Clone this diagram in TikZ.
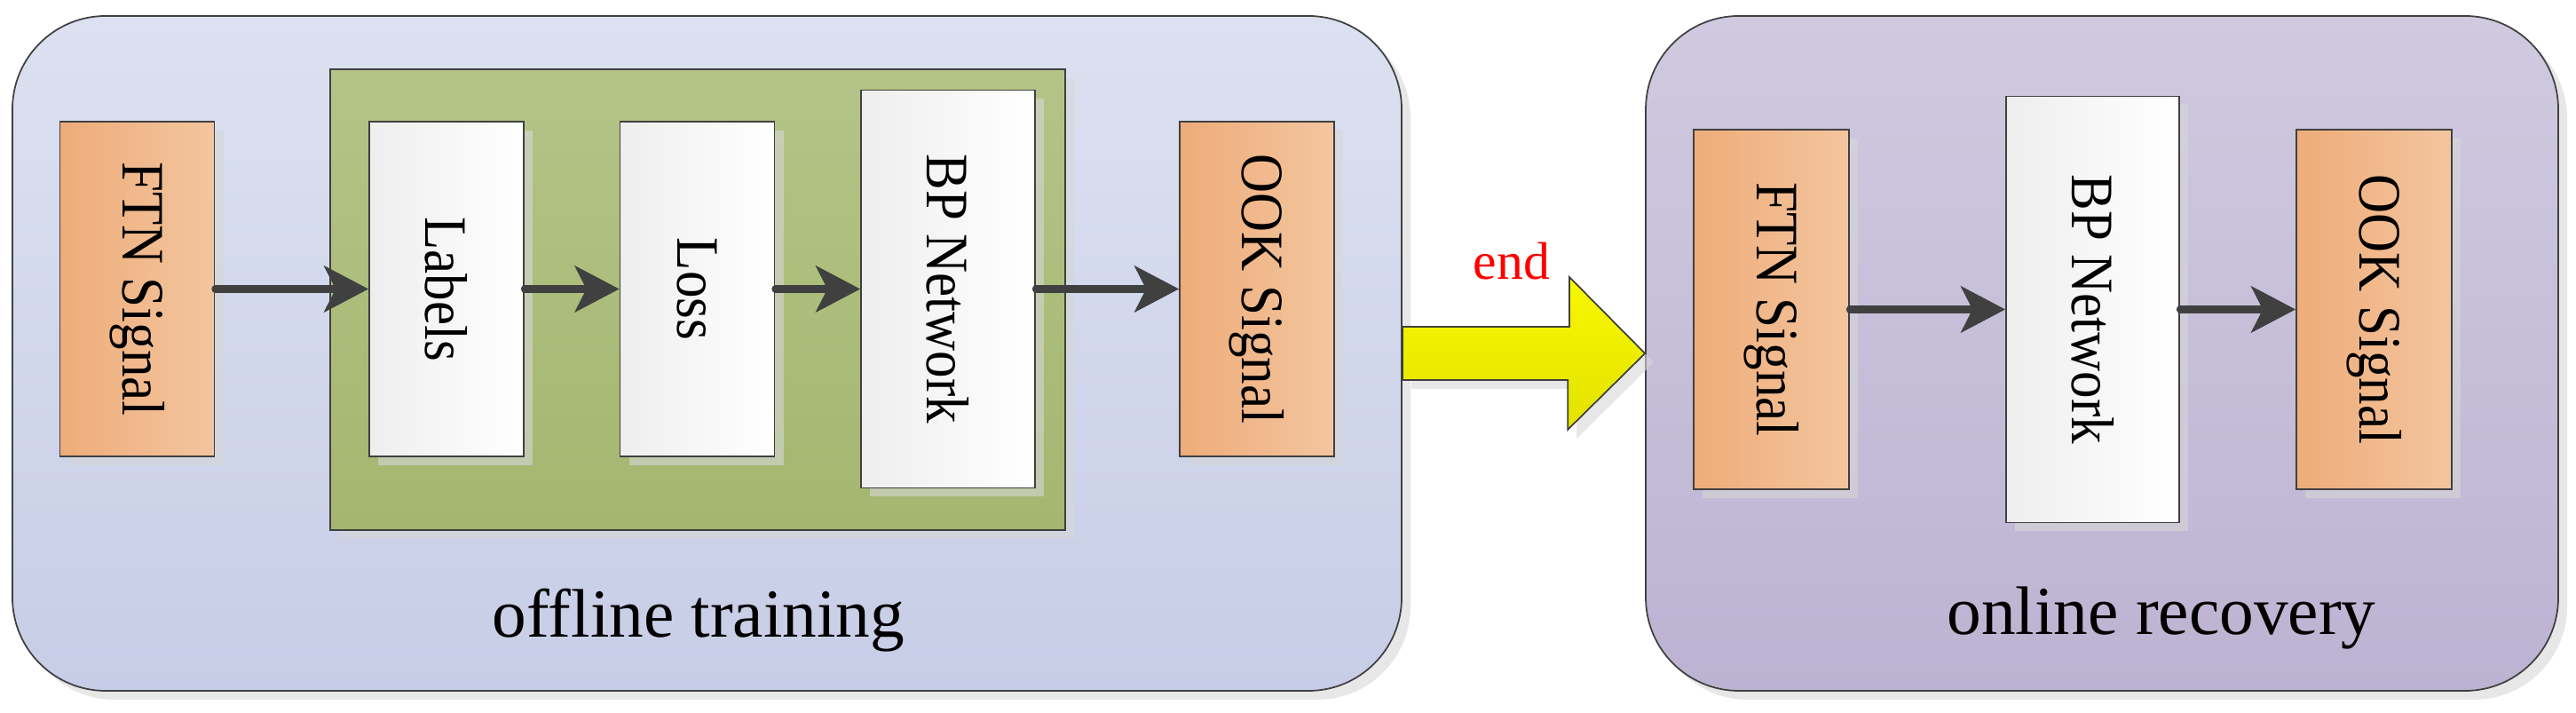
\documentclass[tikz,border=0pt]{standalone}
\usepackage{fontspec}
\setmainfont{Liberation Serif}
\usetikzlibrary{arrows.meta,positioning,shadows,calc}
\definecolor{edgeGray}{RGB}{64,64,64}
\definecolor{offTop}{RGB}{220,225,241}
\definecolor{offBot}{RGB}{199,205,230}
\definecolor{onTop}{RGB}{208,202,224}
\definecolor{onBot}{RGB}{188,179,210}
\definecolor{grnTop}{RGB}{180,196,136}
\definecolor{grnBot}{RGB}{164,182,111}
\definecolor{orgL}{RGB}{238,172,121}
\definecolor{orgR}{RGB}{243,197,159}
\definecolor{whtL}{RGB}{238,238,238}
\definecolor{ylwTop}{RGB}{248,248,0}
\definecolor{ylwBot}{RGB}{226,226,0}
\definecolor{shadeGray}{RGB}{215,215,215}
\newcommand{\sideText}[1]{\rotatebox{-90}{\scalebox{0.9}[1]{#1}}}
\tikzset{
  boxShade/.style={drop shadow={shadow xshift=0.1cm,shadow yshift=-0.1cm,fill=shadeGray,opacity=0.6}},
  stageBox/.style={draw=edgeGray,line width=0.5pt,rounded corners=1.05cm,inner sep=0pt,boxShade},
  sigBox/.style={draw=edgeGray,line width=0.5pt,left color=orgL,right color=orgR,inner sep=0pt,
    minimum width=1.74cm,minimum height=3.77cm,boxShade,font=\fontsize{19.3}{23}\selectfont},
  netBox/.style={draw=edgeGray,line width=0.5pt,left color=whtL,right color=white,inner sep=0pt,
    minimum width=1.74cm,minimum height=3.77cm,boxShade,font=\fontsize{19.3}{23}\selectfont},
  flow/.style={-{Stealth[length=5mm,width=5.2mm,inset=1.3mm]},line width=2.3pt,draw=edgeGray,line cap=round},
  stageText/.style={anchor=base,font=\fontsize{22}{26}\selectfont}
}

\begin{document}
\begin{tikzpicture}
  \useasboundingbox (0,0) rectangle (29.02,8.03);
  % the two stages
  \node[stageBox,top color=offTop,bottom color=offBot,minimum width=15.65cm,minimum height=7.6cm] (offline) at (7.965,4.05) {};
  \node[stageBox,top color=onTop,bottom color=onBot,minimum width=10.28cm,minimum height=7.6cm] (online) at (23.68,4.05) {};
  \node[draw=edgeGray,line width=0.5pt,top color=grnTop,bottom color=grnBot,boxShade,
        minimum width=8.28cm,minimum height=5.19cm] (trainBlock) at (7.86,4.655) {};

  % offline training
  \node[sigBox] (ftnA) at (1.545,4.775) {\sideText{FTN Signal}};
  \node[netBox] (lblA) at (5.03,4.775) {\sideText{Labels}};
  \node[netBox] (lossA) at (7.855,4.775) {\sideText{Loss}};
  \node[netBox,minimum width=1.96cm,minimum height=4.48cm] (bpA) at (10.68,4.775) {\sideText{BP Network}};
  \node[sigBox] (ookA) at (14.16,4.775) {\sideText{OOK Signal}};
  \draw[flow] (ftnA) -- (lblA);
  \draw[flow] (lblA) -- (lossA);
  \draw[flow] (lossA) -- (bpA);
  \draw[flow] (bpA) -- (ookA);
  \node[stageText] (offTxt) at (7.87,0.85) {offline training};

  % online recovery
  \node[sigBox,minimum width=1.75cm,minimum height=4.05cm] (ftnB) at (19.955,4.545) {\sideText{FTN Signal}};
  \node[netBox,minimum width=1.95cm,minimum height=4.8cm] (bpB) at (23.575,4.545) {\sideText{BP Network}};
  \node[sigBox,minimum width=1.75cm,minimum height=4.05cm] (ookB) at (26.745,4.545) {\sideText{OOK Signal}};
  \draw[flow] (ftnB) -- (bpB);
  \draw[flow] (bpB) -- (ookB);
  \node[stageText] (onTxt) at (24.35,0.88) {online recovery};

  % hand-over arrow
  \draw[draw=edgeGray,line width=0.5pt,top color=ylwTop,bottom color=ylwBot,boxShade]
    ($(offline.east)+(0,0.3)$) -- ++(1.88,0) -- ++(0,0.56) -- (online.west)
    -- ++(-0.87,-0.86) -- ++(0,0.56) -- ($(offline.east)+(0,-0.3)$) -- cycle;
  \node[anchor=base,text=red,font=\fontsize{17}{20}\selectfont] (endTxt) at (17.03,4.88) {end};
\end{tikzpicture}
\end{document}
